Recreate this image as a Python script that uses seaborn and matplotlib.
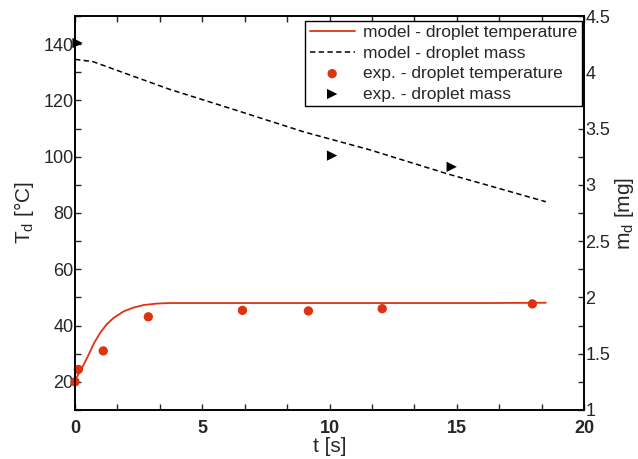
import matplotlib
matplotlib.use("Agg")
import matplotlib.pyplot as plt
from matplotlib.ticker import MultipleLocator
import seaborn as sns
import pandas as pd

# Model: droplet temperature vs time
model_t = [0.0, 0.25, 0.5, 0.75, 1.0, 1.25, 1.5, 1.9, 2.3, 2.7, 3.2, 3.7,
           8.0, 12.0, 16.0, 18.5]
model_T = [20.6, 24.5, 29.0, 33.8, 37.6, 40.5, 42.6, 45.0, 46.4, 47.3, 47.8,
           48.0, 48.0, 48.0, 48.0, 48.1]

# Model: droplet mass vs time
mass_t = [0.0, 0.7, 1.8, 3.7, 6.3, 9.0, 11.6, 14.6, 18.5]
mass_m = [4.115, 4.095, 4.005, 3.85, 3.665, 3.47, 3.31, 3.10, 2.85]

# Experimental droplet temperature
exp_t = [0.0, 0.13, 1.11, 2.88, 6.58, 9.17, 12.07, 17.97]
exp_T = [20.0, 24.4, 31.0, 43.1, 45.4, 45.2, 46.0, 47.7]

# Experimental droplet mass
expm_t = [0.1, 10.1, 14.8]
expm_m = [4.26, 3.26, 3.16]

RED = "#dd3311"

sns.set_style("ticks")
plt.rcParams["font.family"] = ["Liberation Sans", "DejaVu Sans"]
plt.rcParams["axes.linewidth"] = 1.2

fig = plt.figure(figsize=(6.38, 4.59), dpi=100)
ax = fig.add_axes([0.1176, 0.1068, 0.7978, 0.8583])
ax2 = ax.twinx()

df_T = pd.DataFrame({"t": model_t, "T": model_T})
df_m = pd.DataFrame({"t": mass_t, "m": mass_m})
df_eT = pd.DataFrame({"t": exp_t, "T": exp_T})
df_em = pd.DataFrame({"t": expm_t, "m": expm_m})

sns.lineplot(data=df_T, x="t", y="T", ax=ax, color=RED, lw=1.3,
             label="model - droplet temperature", legend=False, sort=False)
sns.scatterplot(data=df_eT, x="t", y="T", ax=ax, color=RED, s=45,
                edgecolor="none", label="exp. - droplet temperature",
                legend=False, zorder=5, clip_on=False)
sns.lineplot(data=df_m, x="t", y="m", ax=ax2, color="black", lw=1.1,
             linestyle=(0, (3.5, 2.2)), label="model - droplet mass",
             legend=False, sort=False)
sns.scatterplot(data=df_em, x="t", y="m", ax=ax2, color="black", marker=">",
                s=55, edgecolor="none", label="exp. - droplet mass",
                legend=False, zorder=5, clip_on=False)

ax.set_xlim(0, 20)
ax.set_ylim(10, 150)
ax2.set_ylim(1, 4.5)

ax.xaxis.set_major_locator(MultipleLocator(5))
ax.xaxis.set_minor_locator(MultipleLocator(5 / 3))
ax.yaxis.set_major_locator(MultipleLocator(20))
ax.yaxis.set_minor_locator(MultipleLocator(10))
ax2.yaxis.set_major_locator(MultipleLocator(0.5))
ax2.yaxis.set_minor_locator(MultipleLocator(0.25))
ax2.yaxis.set_major_formatter(plt.FuncFormatter(lambda v, p: f"{v:g}"))

ax.tick_params(axis="x", which="both", direction="in", top=True,
               length=4.5, width=1, labelsize=13, pad=7)
ax.tick_params(axis="y", which="both", direction="in", left=True, right=False,
               length=4.5, width=1, labelsize=13, pad=1)
ax2.tick_params(axis="y", which="both", direction="in", right=True,
                length=4.5, width=1, labelsize=13, pad=1)
for lbl in ax.get_xticklabels():
    lbl.set_fontweight("bold")

for sp in ax.spines.values():
    sp.set_visible(True)
    sp.set_color("black")
for sp in ax2.spines.values():
    sp.set_color("black")

ax.set_xlabel("t [s]", fontsize=15, labelpad=0.5)
ax.set_ylabel("T$_\\mathregular{d}$ [°C]", fontsize=15, labelpad=5)
ax2.set_ylabel("m$_\\mathregular{d}$ [mg]", fontsize=15, rotation=90,
               labelpad=2)

h1, l1 = ax.get_legend_handles_labels()
h2, l2 = ax2.get_legend_handles_labels()
handles = [h1[0], h2[0], h1[1], h2[1]]
labels = [l1[0], l2[0], l1[1], l2[1]]
leg = ax2.legend(handles, labels, loc="upper right",
                 bbox_to_anchor=(582 / 638, 1 - 21 / 459),
                 bbox_transform=fig.transFigure, fontsize=12.5,
                 frameon=True, fancybox=False, framealpha=1,
                 edgecolor="black", borderpad=0.25, labelspacing=0.3,
                 handlelength=2.6, handletextpad=0.5, borderaxespad=0)
leg.get_frame().set_linewidth(1.0)

fig.savefig("out.png", dpi=100)
